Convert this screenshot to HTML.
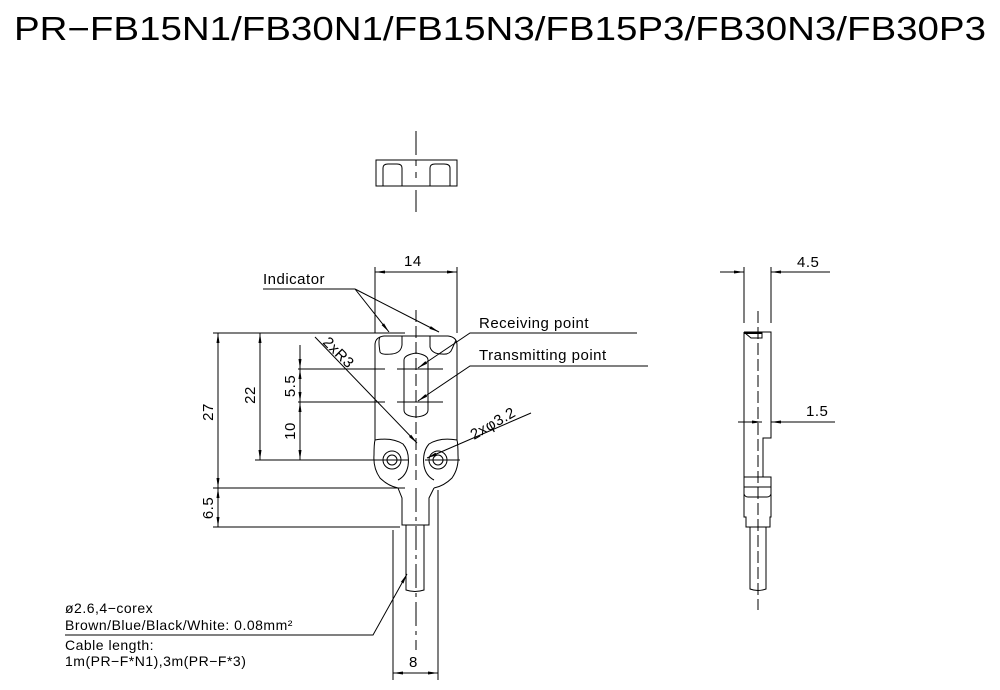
<!DOCTYPE html>
<html><head><style>
html,body{margin:0;padding:0;background:#fff;}
svg{display:block;font-family:"Liberation Sans",sans-serif;}
text{fill:#000;}
</style></head><body>
<svg width="1000" height="690" viewBox="0 0 1000 690" xmlns="http://www.w3.org/2000/svg">
<defs>
<marker id="a" viewBox="0 0 10 4" refX="10" refY="2" markerWidth="10" markerHeight="4" markerUnits="userSpaceOnUse" orient="auto"><path d="M0,0.5 L10,2 L0,3.5 Z" fill="#000"/></marker>
</defs>
<text x="14" y="40" font-size="33" textLength="972" lengthAdjust="spacingAndGlyphs">PR−FB15N1/FB30N1/FB15N3/FB15P3/FB30N3/FB30P3</text>
<g stroke="#000" stroke-width="1" fill="none">
<!-- top view -->
<rect x="376" y="160" width="81" height="26"/>
<path d="M383,186 V168 Q383,164 388,164 H397 Q402,164 402,168 V186"/>
<path d="M430,186 V168 Q430,164 435,164 H444 Q450,164 450,168 V186"/>
<path d="M416,131 V155 M416,160 V166 M416,172 V178 M416,190 V212"/>
<!-- front body -->
<path d="M375,440 V345 Q375,337 384,336 H448 Q457,337 457,345 V440"/>
<path d="M380,337 Q378,340 380,352 Q381,355 392,354 Q401,353 402,345 V336"/>
<path d="M430,336 V347 Q432,354 442,354 Q450,355 452,349 L456,340"/>
<path d="M404,360 Q404,355 416,353 Q428,355 428,360 V410 Q428,416 416,417 Q404,416 404,410 Z"/>
<path d="M416,310 V480" stroke-dasharray="12,4"/>
<!-- ears -->
<path d="M375,440 Q374,444 374,455 Q373,468 380,478 Q388,486 398,488"/>
<path d="M457,440 Q458,444 458,455 Q459,468 452,478 Q444,486 434,488"/>
<path d="M375,440 Q392,437 403,444 Q410,452 408,466 Q406,476 398,480"/>
<path d="M457,440 Q440,437 429,444 Q422,452 424,466 Q426,476 434,480"/>
<circle cx="392" cy="460" r="9"/><circle cx="392" cy="460" r="5"/>
<circle cx="438" cy="460" r="9"/><circle cx="438" cy="460" r="5"/>
<path d="M365,460 H408 M425,460 H460"/>
<path d="M398,488 L402,498 V525 H429 V498 L434,488"/>
<path d="M406,525 V590 Q415,593 424,590 V525"/>
<path d="M416,488 V650" stroke-dasharray="24,5,4,5"/>
<!-- dims 14 -->
<path d="M375,267 V333 M457,267 V333"/>
<path d="M416,272 H375" marker-end="url(#a)"/><path d="M416,272 H457" marker-end="url(#a)"/>
<path d="M213,333 H405 M255,460 H365 M213,488 H405 M213,527 H400 M298,369 H385 M397,369 H443 M298,402 H385 M397,402 H443"/>
<path d="M218,410 V333" marker-end="url(#a)"/><path d="M218,410 V488" marker-end="url(#a)"/>
<path d="M260,400 V333" marker-end="url(#a)"/><path d="M260,400 V460" marker-end="url(#a)"/>
<path d="M300,345 V369" marker-end="url(#a)"/><path d="M300,385 V369" marker-end="url(#a)"/><path d="M300,385 V402" marker-end="url(#a)"/><path d="M300,430 V402" marker-end="url(#a)"/><path d="M300,430 V460" marker-end="url(#a)"/>
<path d="M218,507 V488" marker-end="url(#a)"/><path d="M218,507 V527" marker-end="url(#a)"/>
<path d="M393,530 V680 M438,490 V680"/>
<path d="M415,673 H393" marker-end="url(#a)"/><path d="M415,673 H438" marker-end="url(#a)"/>
<!-- leaders -->
<path d="M263,289 H355"/>
<path d="M355,289 L389,332" marker-end="url(#a)"/><path d="M355,289 L439,332" marker-end="url(#a)"/>
<path d="M637,333 H470 L418,368" marker-end="url(#a)"/>
<path d="M648,366 H470 L418,401" marker-end="url(#a)"/>
<path d="M531,413 L427,458" marker-end="url(#a)"/>
<path d="M315,337 L417,443" marker-end="url(#a)"/>
<path d="M65,635 H373 L407,574" marker-end="url(#a)"/>
<!-- side view -->
<path d="M744,267 V323 M771,267 V323"/>
<path d="M720,272 H744" marker-end="url(#a)"/><path d="M830,272 H771" marker-end="url(#a)"/>
<path d="M744,332 H771 V438 H763 V477 M744,332 V497"/>
<path d="M745,333 H762 V338 H751 Z"/>
<path d="M744,333 H762" stroke-width="2"/>
<path d="M744,477 H771 V497 M744,487 H771 M744,494 Q745,497 748,497 H767 Q770,497 771,494"/>
<path d="M744,497 V517 H746 V527 H770 V517 H771 V497"/>
<path d="M750,527 V589 Q758,592 766,589 V527"/>
<path d="M758,311 V610" stroke-dasharray="12,4"/>
<path d="M738,422 H762" marker-end="url(#a)"/><path d="M835,422 H771" marker-end="url(#a)"/>
</g>
<g font-size="15" style="letter-spacing:0.5px">
<text x="404" y="266">14</text>
<text x="263" y="284">Indicator</text>
<text x="479" y="328">Receiving point</text>
<text x="479" y="360">Transmitting point</text>
<text x="797" y="267">4.5</text>
<text x="806" y="416">1.5</text>
<text x="409" y="667">8</text>
<text transform="translate(213,412) rotate(-90)" text-anchor="middle">27</text>
<text transform="translate(255,395) rotate(-90)" text-anchor="middle">22</text>
<text transform="translate(295,386) rotate(-90)" text-anchor="middle">5.5</text>
<text transform="translate(295,431) rotate(-90)" text-anchor="middle">10</text>
<text transform="translate(213,508) rotate(-90)" text-anchor="middle">6.5</text>
<text transform="translate(322,343) rotate(45)">2xR3</text>
<text transform="translate(474,440) rotate(-30)">2xφ3.2</text>
<text x="65" y="613" font-size="14">ø2.6,4−corex</text>
<text x="65" y="630" font-size="14">Brown/Blue/Black/White: 0.08mm²</text>
<text x="65" y="650" font-size="14">Cable length:</text>
<text x="65" y="666" font-size="14">1m(PR−F*N1),3m(PR−F*3)</text>
</g>
</svg>
</body></html>
